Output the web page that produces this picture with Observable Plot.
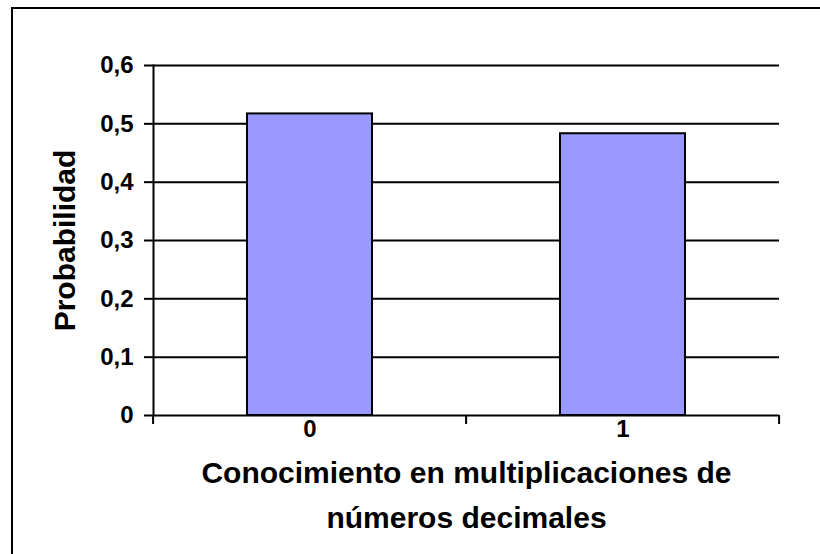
<!DOCTYPE html>
<html>
<head>
<meta charset="utf-8">
<script src="https://cdn.jsdelivr.net/npm/d3@7"></script>
<script src="https://cdn.jsdelivr.net/npm/@observablehq/plot@0.6"></script>
<style>
  html, body { margin: 0; padding: 0; background: #fff; }
  #chart { width: 820px; height: 554px; position: relative; overflow: hidden; }
  svg { font-family: "Liberation Sans", Arial, sans-serif; }
</style>
</head>
<body>
<div id="chart"></div>
<script>
const categories = ["0", "1"];
const probabilities = [0.517, 0.483];
const yTicks = [0, 0.1, 0.2, 0.3, 0.4, 0.5, 0.6];
const yTickLabels = ["0", "0,1", "0,2", "0,3", "0,4", "0,5", "0,6"];
const yTitle = "Probabilidad";
const xTitleLines = ["Conocimiento en multiplicaciones de", "números decimales"];

const data = categories.map((c, i) => ({cat: c, p: probabilities[i]}));

// boundary ticks below the x axis, between category slots
const boundaryTicks = (index, scales, values, dims) => {
  const g = d3.create("svg:g");
  const x = scales.x;
  const step = x.step();
  const x0 = x(categories[0]) - step * x.paddingOuter();
  const y0 = scales.y(0);
  for (let i = 0; i <= categories.length; i++) {
    const px = x0 + i * step;
    g.append("line").attr("x1", px).attr("x2", px).attr("y1", y0).attr("y2", y0 + 9)
      .attr("stroke", "black").attr("stroke-width", 2);
  }
  return g.node();
};

const plot = Plot.plot({
  width: 820,
  height: 554,
  marginLeft: 153,
  marginRight: 41,
  marginTop: 65,
  marginBottom: 139,
  style: {background: "white", fontFamily: "Liberation Sans, Arial, sans-serif"},
  x: {domain: categories, paddingInner: 0.6, paddingOuter: 0.3, label: null},
  y: {domain: [0, 0.6], label: null},
  marks: [
    Plot.frame({anchor: "left", stroke: "black", strokeWidth: 2}),
    Plot.ruleY(yTicks, {stroke: "black", strokeWidth: 2}),
    Plot.barY(data, {x: "cat", y: "p", fill: "#9999FF", stroke: "black", strokeWidth: 2}),
    Plot.axisY({ticks: yTicks, tickFormat: (d) => yTickLabels[yTicks.indexOf(d)], tickSize: 9, tickPadding: 11,
      fontSize: 24, fontWeight: "bold", fill: "black", stroke: "black", strokeWidth: 2, label: null}),
    Plot.axisX({tickSize: 0, tickPadding: 4, fontSize: 24, fontWeight: "bold", fill: "black", label: null}),
    boundaryTicks,
    Plot.text([yTitle], {frameAnchor: "left", textAnchor: "middle", rotate: -90, dx: -88, fontSize: 30, fontWeight: "bold", fill: "black"}),
    Plot.text([xTitleLines[0]], {frameAnchor: "bottom", dy: 67, fontSize: 30, fontWeight: "bold", fill: "black"}),
    Plot.text([xTitleLines[1]], {frameAnchor: "bottom", dy: 112, fontSize: 30, fontWeight: "bold", fill: "black"})
  ]
});

const svg = d3.select(plot);
svg.insert("rect", ":first-child")
  .attr("x", 12).attr("y", 8).attr("width", 830).attr("height", 560)
  .attr("fill", "none").attr("stroke", "black").attr("stroke-width", 2);
svg.attr("overflow", "hidden");
document.getElementById("chart").append(plot);
</script>
</body>
</html>
